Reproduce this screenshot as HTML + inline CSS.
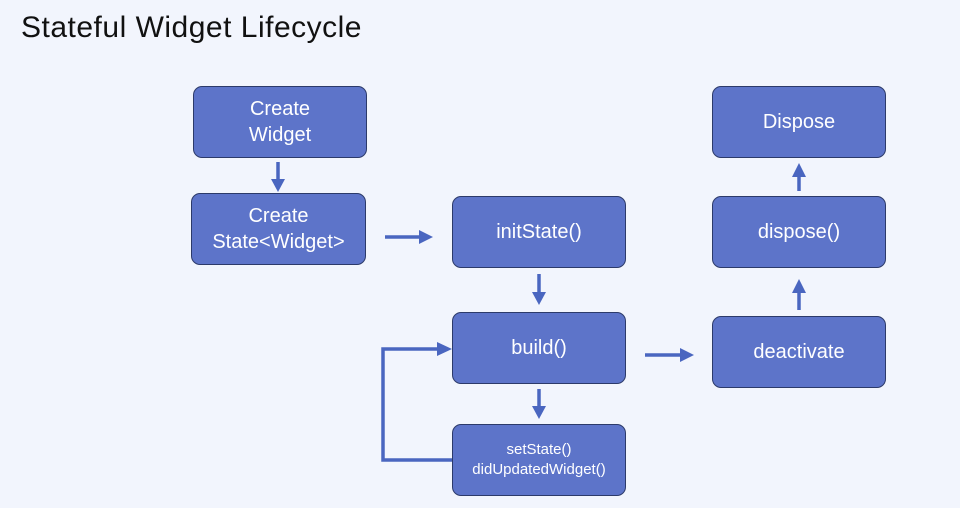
<!DOCTYPE html>
<html><head><meta charset="utf-8"><style>
body{margin:0;width:960px;height:508px;background:#f2f5fd;position:relative;overflow:hidden;font-family:"Liberation Sans",sans-serif}
.t{position:absolute;left:21px;top:11px;font-size:30px;color:#111;letter-spacing:0.5px}
.b{position:absolute;width:172px;height:70px;background:#5d74c9;border:1.5px solid #2c3a6a;border-radius:9px;color:#fff;display:flex;align-items:center;justify-content:center;text-align:center;font-size:20px;line-height:26px;box-sizing:border-box}
</style></head><body>
<div class="t">Stateful Widget Lifecycle</div>
<div class="b" style="left:193px;top:86px;width:174px;height:72px">Create<br>Widget</div>
<div class="b" style="left:191px;top:193px;width:175px;height:72px">Create<br>State&lt;Widget&gt;</div>
<div class="b" style="left:452px;top:196px;width:174px;height:72px">initState()</div>
<div class="b" style="left:452px;top:312px;width:174px;height:72px">build()</div>
<div class="b" style="left:452px;top:424px;width:174px;height:72px;font-size:15px;line-height:20px">setState()<br>didUpdatedWidget()</div>
<div class="b" style="left:712px;top:86px;width:174px;height:72px">Dispose</div>
<div class="b" style="left:712px;top:196px;width:174px;height:72px">dispose()</div>
<div class="b" style="left:712px;top:316px;width:174px;height:72px">deactivate</div>
<svg width="960" height="508" style="position:absolute;left:0;top:0">
<g stroke="#4a66c0" stroke-width="3.5" fill="none">
<line x1="278" y1="162" x2="278" y2="182"/>
<line x1="385" y1="237" x2="422" y2="237"/>
<line x1="539" y1="274" x2="539" y2="295"/>
<line x1="539" y1="389" x2="539" y2="409"/>
<line x1="645" y1="355" x2="683" y2="355"/>
<line x1="799" y1="310" x2="799" y2="290"/>
<line x1="799" y1="191" x2="799" y2="174"/>
<polyline points="452,460 383,460 383,349 440,349"/>
</g>
<g fill="#4a66c0">
<polygon points="271,179 285,179 278,192"/>
<polygon points="419,230 419,244 433,237"/>
<polygon points="532,292 546,292 539,305"/>
<polygon points="532,406 546,406 539,419"/>
<polygon points="680,348 680,362 694,355"/>
<polygon points="792,293 806,293 799,279"/>
<polygon points="792,177 806,177 799,163"/>
<polygon points="437,342 437,356 452,349"/>
</g>
</svg>
</body></html>
